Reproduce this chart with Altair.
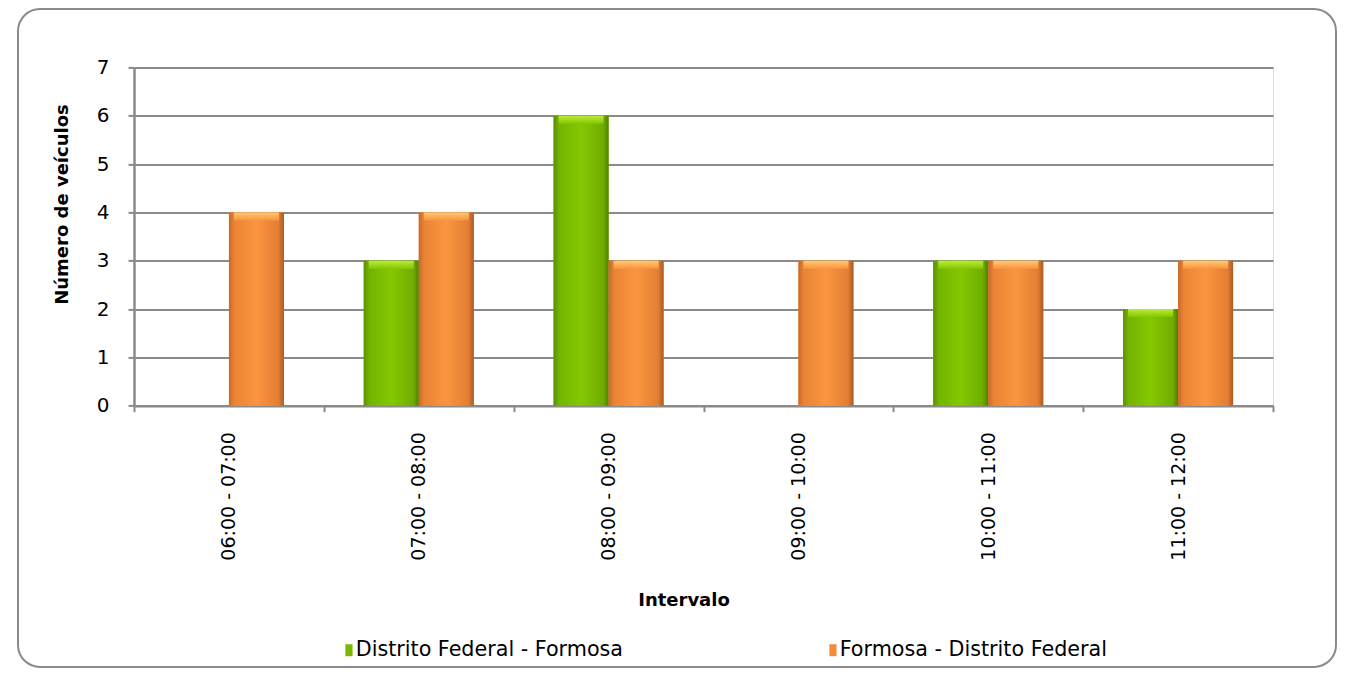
import altair as alt
import pandas as pd

intervals = ["06:00 - 07:00", "07:00 - 08:00", "08:00 - 09:00",
             "09:00 - 10:00", "10:00 - 11:00", "11:00 - 12:00"]
series_names = ["Distrito Federal - Formosa", "Formosa - Distrito Federal"]
df_to_formosa = [0, 3, 6, 0, 3, 2]
formosa_to_df = [4, 4, 3, 3, 3, 3]
y_ticks = [0, 1, 2, 3, 4, 5, 6, 7]

rows = []
for i, iv in enumerate(intervals):
    rows.append({"Intervalo": iv, "Série": series_names[0], "Veículos": df_to_formosa[i]})
    rows.append({"Intervalo": iv, "Série": series_names[1], "Veículos": formosa_to_df[i]})
data = pd.DataFrame(rows)

FONT = "DejaVu Sans"
GRAY = "#8a8a8a"
GREEN = "#79b800"
ORANGE = "#f38b3a"

x_enc = alt.X("Intervalo:N", sort=intervals,
              scale=alt.Scale(paddingInner=0, paddingOuter=0),
              axis=alt.Axis(title="Intervalo", labelAngle=-90, labelFontSize=19,
                            labelFont=FONT, labelColor="#000", labelPadding=20,
                            tickBand="extent", ticks=True, tickSize=6, tickColor=GRAY,
                            tickWidth=2, domainColor=GRAY, domainWidth=2.5,
                            titleFont=FONT, titleFontSize=18, titleFontWeight="bold",
                            titleColor="#000", titleX=549.5, titleY=194.8,
                            titleAlign="center", titleBaseline="middle",
                            labelBaseline="middle", labelAlign="right"))
xoff_enc = alt.XOffset("Série:N", sort=series_names,
                       scale=alt.Scale(paddingInner=0, paddingOuter=0.725))
y_enc = alt.Y("Veículos:Q",
              scale=alt.Scale(domain=[0, 7], nice=False),
              axis=alt.Axis(title="Número de veículos", values=y_ticks, format="d",
                            labelFontSize=20, labelFont=FONT, labelColor="#000",
                            labelPadding=19, tickSize=6, tickColor=GRAY, tickWidth=2,
                            domainColor=GRAY, domainWidth=2.5,
                            grid=True, gridColor=GRAY, gridWidth=2,
                            titleFont=FONT, titleFontSize=18, titleFontWeight="bold",
                            titleColor="#000", titleAngle=-90, titleX=-72, titleY=136.6,
                            titleAlign="center", titleBaseline="middle"))

base = alt.Chart(data)

bars = base.mark_bar(size=55).encode(
    x=x_enc, xOffset=xoff_enc, y=y_enc,
    color=alt.Color("Série:N", sort=series_names,
                    scale=alt.Scale(domain=series_names, range=[GREEN, ORANGE]),
                    legend=alt.Legend(title=None, orient="none", legendX=201, legendY=572,
                                      direction="horizontal", columns=2, columnPadding=196,
                                      labelFont=FONT, labelFontSize=20.7, labelColor="#000",
                                      labelLimit=0, labelOffset=0,
                                      symbolType="M0,-1H1.2V1H0Z", symbolSize=144,
                                      symbolStrokeWidth=0, symbolOpacity=1))
)

green_grad = alt.Gradient(gradient="linear", x1=0, x2=1, y1=0, y2=0, stops=[
    alt.GradientStop(color="#5a9000", offset=0),
    alt.GradientStop(color="#74b400", offset=0.1),
    alt.GradientStop(color="#84c800", offset=0.5),
    alt.GradientStop(color="#70ad00", offset=0.9),
    alt.GradientStop(color="#4f8000", offset=1)])
orange_grad = alt.Gradient(gradient="linear", x1=0, x2=1, y1=0, y2=0, stops=[
    alt.GradientStop(color="#c8692a", offset=0),
    alt.GradientStop(color="#ea8434", offset=0.1),
    alt.GradientStop(color="#fa9540", offset=0.5),
    alt.GradientStop(color="#e47e32", offset=0.9),
    alt.GradientStop(color="#a95a25", offset=1)])

def hi_grad(light, mid):
    return alt.Gradient(gradient="linear", x1=0, x2=0, y1=0, y2=1, stops=[
        alt.GradientStop(color=light, offset=0),
        alt.GradientStop(color=mid, offset=1)])

def overlay(name, grad, hi):
    sub = base.transform_filter(alt.datum["Série"] == name)
    body = sub.mark_bar(size=55, color=grad).encode(x=x_enc, xOffset=xoff_enc, y=y_enc)
    top = sub.transform_filter(alt.datum["Veículos"] > 0).mark_bar(
        size=45, color=hi, y2Offset=8, opacity=0.9).encode(
        x=x_enc, xOffset=xoff_enc, y=y_enc, y2=alt.Y2("Veículos:Q"))
    return body + top

frame = alt.Chart(pd.DataFrame({"f": [0]})).mark_rect(
    fill="transparent", stroke=GRAY, strokeWidth=2, cornerRadius=22).encode(
    x=alt.value(-116), x2=alt.value(1202), y=alt.value(-58.4), y2=alt.value(599.6))

chart = alt.layer(
    frame, bars,
    overlay(series_names[0], green_grad, hi_grad("#c4f040", "#84c800")),
    overlay(series_names[1], orange_grad, hi_grad("#ffd27a", "#fa9540")),
).properties(
    width=1139, height=338.3,
    padding={"left": 126, "top": 59.4, "right": 75, "bottom": 262.3},
    autosize=alt.AutoSizeParams(type="none"),
).configure_view(stroke=None).configure(background="white")

chart.save("out.html", embed_options={"renderer": "svg", "actions": False})
